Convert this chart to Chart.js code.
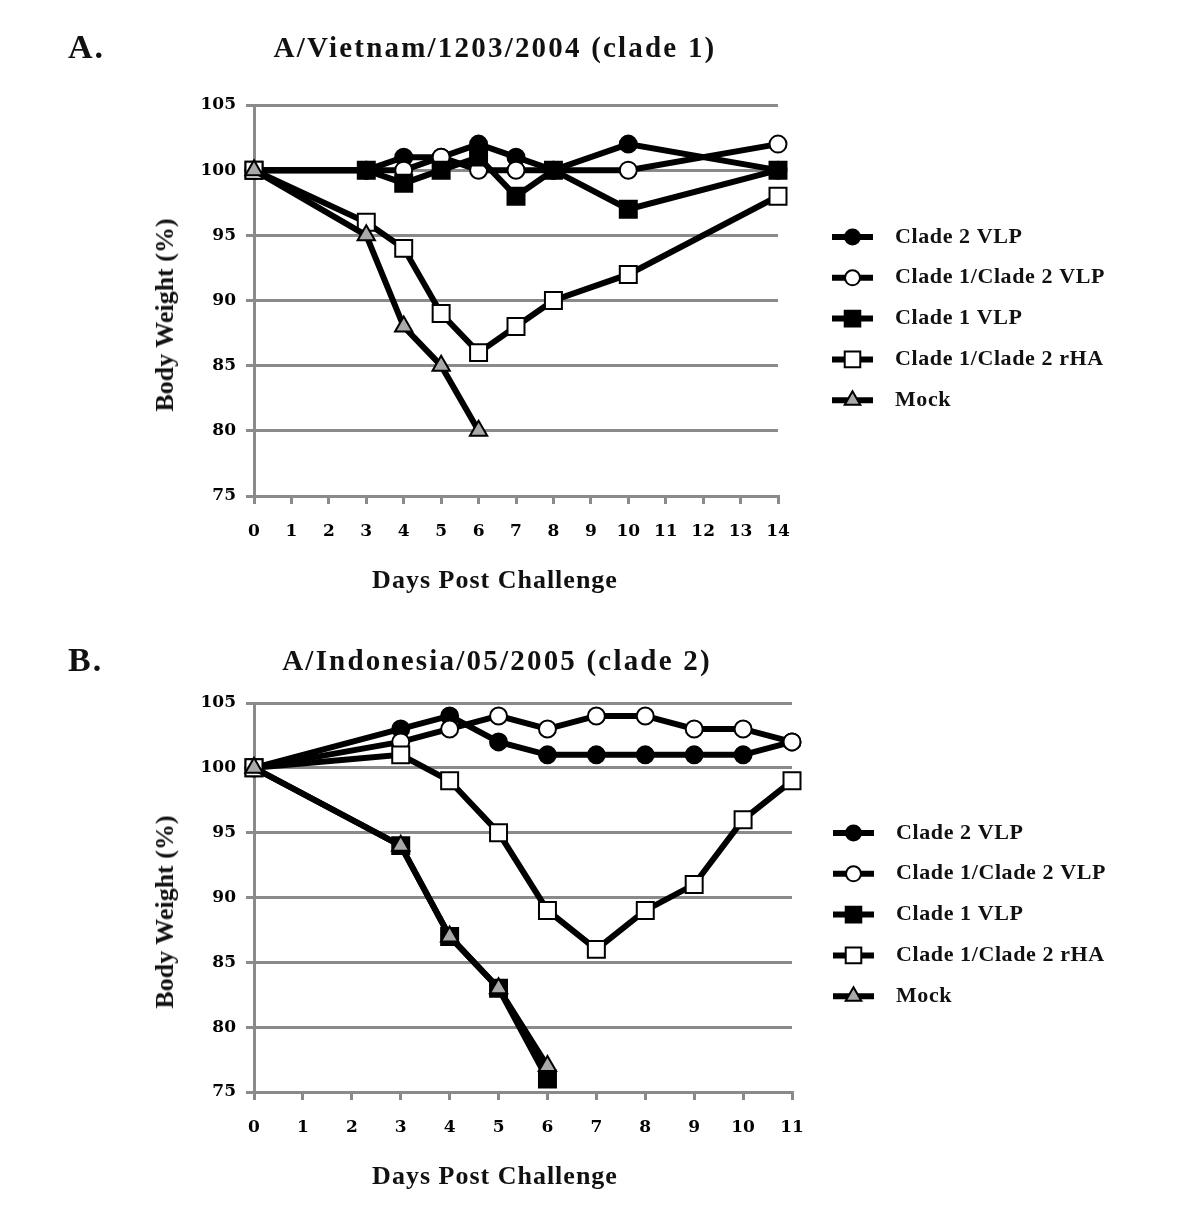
<!DOCTYPE html>
<html lang="en">
<head>
<meta charset="UTF-8">
<title>Body weight after challenge</title>
<script src="https://cdn.jsdelivr.net/npm/chart.js"></script>
<style>
    body { margin: 0; background: #fff; }
    #page { position: relative; width: 1200px; height: 1221px; font-family: 'Liberation Serif', serif; color: #111; }
    canvas { position: absolute; left: 0; }
    #chartA { top: 0; }
    #chartB { top: 610px; }
    .panel { position: absolute; left: 68px; font-weight: bold; font-size: 34px; letter-spacing: 2px; transform: translateY(-50%); }
    .title { position: absolute; font-weight: bold; font-size: 29px; letter-spacing: 2.2px; transform: translate(-50%, -50%); white-space: nowrap; }
    .xtitle { position: absolute; font-weight: bold; font-size: 26px; letter-spacing: 1px; transform: translate(-50%, -50%); white-space: nowrap; }
    .ytitle { position: absolute; font-weight: bold; font-size: 26px; transform: translate(-50%, -50%) rotate(-90deg); white-space: nowrap; }
</style>
</head>
<body>
<div id="page">
    <canvas id="chartA" width="1200" height="610"></canvas>
    <canvas id="chartB" width="1200" height="611"></canvas>
    <div class="panel" style="top:47px">A.</div>
    <div class="title" style="left:495px; top:47px">A/Vietnam/1203/2004 (clade 1)</div>
    <div class="ytitle" style="left:165px; top:315px">Body Weight (%)</div>
    <div class="xtitle" style="left:495px; top:580px">Days Post Challenge</div>
    <div class="panel" style="top:660px">B.</div>
    <div class="title" style="left:497px; top:660px">A/Indonesia/05/2005 (clade 2)</div>
    <div class="ytitle" style="left:165px; top:912px">Body Weight (%)</div>
    <div class="xtitle" style="left:495px; top:1176px">Days Post Challenge</div>
</div>
<script>
    // series names (legend order)
    const seriesNames = ['Clade 2 VLP', 'Clade 1/Clade 2 VLP', 'Clade 1 VLP', 'Clade 1/Clade 2 rHA', 'Mock'];

    // panel A - A/Vietnam/1203/2004
    const daysA = [0, 3, 4, 5, 6, 7, 8, 10, 14];
    const clade2VlpA = [100, 100, 101, 101, 102, 101, 100, 102, 100];
    const mixVlpA = [100, 100, 100, 101, 100, 100, 100, 100, 102];
    const clade1VlpA = [100, 100, 99, 100, 101, 98, 100, 97, 100];
    const rhaA = [100, 96, 94, 89, 86, 88, 90, 92, 98];
    const mockA = [100, 95, 88, 85, 80, null, null, null, null];
    const xTicksA = [0, 14];

    // panel B - A/Indonesia/05/2005
    const daysB = [0, 3, 4, 5, 6, 7, 8, 9, 10, 11];
    const clade2VlpB = [100, 103, 104, 102, 101, 101, 101, 101, 101, 102];
    const mixVlpB = [100, 102, 103, 104, 103, 104, 104, 103, 103, 102];
    const clade1VlpB = [100, 94, 87, 83, 76, null, null, null, null, null];
    const rhaB = [100, 101, 99, 95, 89, 86, 89, 91, 96, 99];
    const mockB = [100, 94, 87, 83, 77, null, null, null, null, null];
    const xTicksB = [0, 11];

    const yTicks = [75, 105, 5]; // min, max, step

    const GRID = '#8a8a8a';
    const TICK_FONT = { family: "'DejaVu Serif', serif", size: 17, weight: 'bold' };

    // marker styles, same order as seriesNames
    const markers = [
        { pointStyle: 'circle', pointRadius: 8.5, pointBackgroundColor: '#000', order: 4 },
        { pointStyle: 'circle', pointRadius: 8.5, pointBackgroundColor: '#fff', order: 3 },
        { pointStyle: 'rect', pointRadius: 12, pointBackgroundColor: '#000', order: 2 },
        { pointStyle: 'rect', pointRadius: 12, pointBackgroundColor: '#fff', order: 1 },
        { pointStyle: 'triangle', pointRadius: 10, pointBackgroundColor: '#a9a9a9', order: 0 }
    ];

    function toPoints(days, vals) {
        return days.map((d, i) => ({ x: d, y: vals[i] })).filter(p => p.y !== null);
    }

    // legend drawn at the right, line + marker + label
    const sideLegend = {
        id: 'sideLegend',
        afterDraw(chart, args, opts) {
            const ctx = chart.ctx;
            chart.data.datasets.forEach((ds, i) => {
                const y = opts.top + i * opts.gap;
                ctx.save();
                ctx.strokeStyle = '#000';
                ctx.lineWidth = 6;
                ctx.beginPath();
                ctx.moveTo(opts.x, y);
                ctx.lineTo(opts.x + 41, y);
                ctx.stroke();
                ctx.fillStyle = ds.pointBackgroundColor;
                ctx.strokeStyle = '#000';
                ctx.lineWidth = 2;
                const r = ds.pointStyle === 'rect' ? 11 : ds.pointStyle === 'triangle' ? 9 : 7.5;
                Chart.helpers.drawPoint(ctx, { pointStyle: ds.pointStyle, radius: r, borderWidth: 2, rotation: 0 }, opts.x + 20.5, y);
                ctx.fillStyle = '#111';
                ctx.font = "bold 22px 'Liberation Serif', serif";
                ctx.letterSpacing = '0.6px';
                ctx.textBaseline = 'middle';
                ctx.fillText(ds.label, opts.x + 63, y);
                ctx.restore();
            });
        }
    };

    function makeChart(id, days, series, xRange, box) {
        const datasets = series.map((vals, i) => Object.assign({
            label: seriesNames[i],
            data: toPoints(days, vals),
            borderColor: '#000',
            borderWidth: 6,
            pointBorderColor: '#000',
            pointBorderWidth: 2,
            clip: false
        }, markers[i]));

        return new Chart(document.getElementById(id), {
            type: 'line',
            data: { datasets: datasets },
            plugins: [sideLegend],
            options: {
                responsive: false,
                animation: false,
                layout: { padding: { left: 152, top: box.top, right: 1200 - box.right, bottom: 0 } },
                plugins: {
                    legend: { display: false },
                    tooltip: { enabled: false },
                    sideLegend: box.legend
                },
                scales: {
                    x: {
                        type: 'linear',
                        min: xRange[0],
                        max: xRange[1],
                        ticks: { stepSize: 1, color: '#000', font: TICK_FONT, padding: box.xTickPad },
                        grid: { drawOnChartArea: false, color: GRID, lineWidth: 3, tickLength: 8 },
                        border: { color: GRID, width: 3 },
                        afterFit(scale) { scale.height = box.xHeight; }
                    },
                    y: {
                        min: yTicks[0],
                        max: yTicks[1],
                        ticks: { stepSize: yTicks[2], color: '#000', font: TICK_FONT, padding: 10 },
                        grid: { color: GRID, lineWidth: 3, tickLength: 8 },
                        border: { color: GRID, width: 3 },
                        afterFit(scale) { scale.width = 254 - 152; }
                    }
                }
            }
        });
    }

    makeChart('chartA', daysA, [clade2VlpA, mixVlpA, clade1VlpA, rhaA, mockA], xTicksA,
        { top: 105, right: 778, xHeight: 114, xTickPad: 17, legend: { x: 832, top: 237, gap: 40.8 } });
    makeChart('chartB', daysB, [clade2VlpB, mixVlpB, clade1VlpB, rhaB, mockB], xTicksB,
        { top: 93, right: 792, xHeight: 129, xTickPad: 17, legend: { x: 833, top: 223, gap: 40.8 } });
</script>
</body>
</html>
